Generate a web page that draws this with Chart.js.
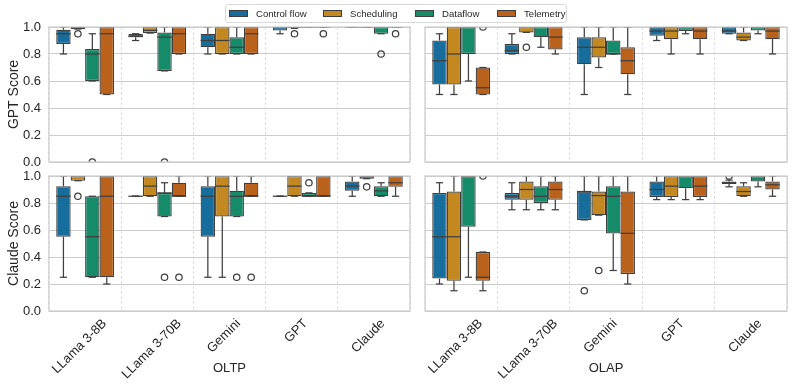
<!DOCTYPE html>
<html><head><meta charset="utf-8">
<script src="https://cdn.jsdelivr.net/npm/chart.js@4.4.1/dist/chart.umd.min.js"></script>
<style>
html,body{margin:0;padding:0;background:#fff;}
#wrap{position:relative;width:793px;height:388px;overflow:hidden;font-family:"Liberation Sans",Arial,sans-serif;}
#wrap canvas{position:absolute;left:0;top:0;}
#legend{position:absolute;left:225px;top:4px;width:342px;height:19px;box-sizing:border-box;border:1px solid #d9d9d9;border-radius:3px;background:rgba(255,255,255,0.85);font-size:9.6px;color:#262626;white-space:nowrap;}
#legend .pt{position:absolute;top:5px;width:19px;height:7px;box-sizing:border-box;border:1px solid #3f3f3f;}
#legend .tx{position:absolute;top:3px;line-height:11px;}
</style></head>
<body><div id="wrap">
<canvas id="c0" width="793" height="388"></canvas>
<canvas id="c1" width="793" height="388"></canvas>
<canvas id="c2" width="793" height="388"></canvas>
<canvas id="c3" width="793" height="388"></canvas>
<div id="legend"></div>
</div>
<script>
// ---------------- data ----------------
const categories = ['LLama 3-8B', 'LLama 3-70B', 'Gemini', 'GPT', 'Claude'];
const seriesNames = ['Control flow', 'Scheduling', 'Dataflow', 'Telemetry'];
const yTickValues = [0.0, 0.2, 0.4, 0.6, 0.8, 1.0];
const groupTitles = ['OLTP', 'OLAP'];
const rowTitles = ['GPT Score', 'Claude Score'];

// each entry: [lower whisker, Q1, median, Q3, upper whisker] per category
const gptOltpControlFlow = [[0.8,0.875,0.95,0.98,1.0],[0.9,0.925,0.93,0.95,0.95],[0.8,0.85,0.9,0.95,1.0],[0.95,0.975,1.0,1.0,1.0],[1,1,1,1,1]];
const gptOltpScheduling  = [[0.985,0.985,1.0,1.0,1.0],[0.955,0.955,0.975,1.0,1.0],[0.8,0.8,0.9,1.0,1.0],[0.99,0.99,1.0,1.0,1.0],[1,1,1,1,1]];
const gptOltpDataflow    = [[0.6,0.6,0.8,0.8375,0.95],[0.675,0.675,0.925,0.96,1.0],[0.8,0.8,0.85,0.925,1.0],[1,1,1,1,1],[0.95,0.95,1.0,1.0,1.0]];
const gptOltpTelemetry   = [[0.5,0.5,0.95,1.0,1.0],[0.8,0.8,0.95,1.0,1.0],[0.8,0.8,0.95,1.0,1.0],[1,1,1,1,1],[1,1,1,1,1]];

const gptOlapControlFlow = [[0.5,0.575,0.75,0.9,0.95],[0.8,0.8,0.825,0.875,0.95],[0.5,0.725,0.85,0.925,1.0],[0.9,0.935,0.97,1.0,1.0],[0.95,0.95,0.97,1.0,1.0]];
const gptOlapScheduling  = [[0.5,0.575,0.8,1.0,1.0],[0.96,0.96,1.0,1.0,1.0],[0.7,0.775,0.85,0.925,1.0],[0.8,0.91,0.97,1.0,1.0],[0.9,0.9,0.925,0.96,1.0]];
const gptOlapDataflow    = [[0.6,0.8,1.0,1.0,1.0],[0.85,0.925,1.0,1.0,1.0],[0.8,0.8,0.8,0.9,1.0],[0.95,0.97,1.0,1.0,1.0],[0.95,0.975,1.0,1.0,1.0]];
const gptOlapTelemetry   = [[0.5,0.5,0.55,0.7,0.7],[0.8,0.833,0.925,1.0,1.0],[0.5,0.65,0.75,0.85,1.0],[0.8,0.91,0.97,1.0,1.0],[0.8,0.91,0.97,1.0,1.0]];

const claudeOltpControlFlow = [[0.25,0.55,0.85,0.925,1.0],[0.85,0.85,0.85,0.85,0.85],[0.25,0.55,0.85,0.925,1.0],[0.85,0.85,0.85,0.85,0.85],[0.85,0.89,0.925,0.96,1.0]];
const claudeOltpScheduling  = [[0.965,0.965,1.0,1.0,1.0],[0.85,0.85,0.925,1.0,1.0],[0.25,0.7,0.925,1.0,1.0],[0.85,0.85,0.925,1.0,1.0],[0.98,0.98,1.0,1.0,1.0]];
const claudeOltpDataflow    = [[0.25,0.25,0.55,0.85,0.85],[0.7,0.7,0.875,0.875,0.95],[0.7,0.7,0.85,0.89,1.0],[0.85,0.85,0.85,0.875,0.875],[0.85,0.85,0.89,0.925,0.95]];
const claudeOltpTelemetry   = [[0.2,0.25,0.85,1.0,1.0],[0.85,0.85,0.85,0.95,1.0],[0.85,0.85,0.85,0.95,1.0],[0.85,0.85,0.85,1.0,1.0],[0.85,0.92,0.95,1.0,1.0]];

const claudeOlapControlFlow = [[0.2,0.24,0.55,0.875,0.95],[0.75,0.825,0.85,0.875,0.95],[0.675,0.675,0.885,0.885,1.0],[0.825,0.845,0.9,0.96,1.0],[0.92,0.94,0.95,0.96,0.97]];
const claudeOlapScheduling  = [[0.15,0.225,0.55,0.885,1.0],[0.75,0.825,0.9,0.96,1.0],[0.71,0.71,0.855,0.885,1.0],[0.825,0.845,0.925,1.0,1.0],[0.85,0.85,0.885,0.925,0.95]];
const claudeOlapDataflow    = [[0.25,0.625,1.0,1.0,1.0],[0.75,0.8,0.85,0.925,1.0],[0.3,0.575,0.85,0.925,1.0],[0.825,0.91,1.0,1.0,1.0],[0.92,0.96,1.0,1.0,1.0]];
const claudeOlapTelemetry   = [[0.15,0.225,0.25,0.437,0.437],[0.75,0.825,0.9,0.96,1.0],[0.2,0.275,0.575,0.885,1.0],[0.825,0.845,0.925,1.0,1.0],[0.85,0.9,0.935,0.96,1.0]];

// outliers per category
const gptOltpControlFlowOut = [[],[],[],[],[]];
const gptOltpSchedulingOut  = [[0.95],[],[],[0.95],[]];
const gptOltpDataflowOut    = [[0.0],[0.0],[],[],[0.8]];
const gptOltpTelemetryOut   = [[],[],[],[0.95],[0.95]];

const gptOlapControlFlowOut = [[],[],[],[],[]];
const gptOlapSchedulingOut  = [[],[0.85],[],[],[]];
const gptOlapDataflowOut    = [[],[],[],[],[]];
const gptOlapTelemetryOut   = [[1.0],[],[],[],[]];

const claudeOltpControlFlowOut = [[],[],[],[],[]];
const claudeOltpSchedulingOut  = [[0.85],[],[],[],[0.92]];
const claudeOltpDataflowOut    = [[],[0.25],[0.25],[0.95],[]];
const claudeOltpTelemetryOut   = [[],[0.25],[0.25],[],[]];

const claudeOlapControlFlowOut = [[],[],[0.15],[],[1.0]];
const claudeOlapSchedulingOut  = [[],[],[0.3],[],[]];
const claudeOlapDataflowOut    = [[],[],[],[],[]];
const claudeOlapTelemetryOut   = [[1.0],[],[],[],[]];

// ---------------- style ----------------
const seriesColors = ['#176d9c', '#c38820', '#168b6a', '#ba611b'];
const EDGE = '#3f3f3f';
const LW = 1.25;
const TEXT = '#262626';
const FONT = '"Liberation Sans", Arial, sans-serif';
const W = 793, H = 388;
const legendPatchLeft = [3, 97, 189, 271];

const panels = [
  {id:'c0', stats:[gptOltpControlFlow,gptOltpScheduling,gptOltpDataflow,gptOltpTelemetry],
   outl:[gptOltpControlFlowOut,gptOltpSchedulingOut,gptOltpDataflowOut,gptOltpTelemetryOut],
   area:{left:49,top:27,right:410,bottom:162}, yTitle:rowTitles[0], xTitle:null},
  {id:'c1', stats:[gptOlapControlFlow,gptOlapScheduling,gptOlapDataflow,gptOlapTelemetry],
   outl:[gptOlapControlFlowOut,gptOlapSchedulingOut,gptOlapDataflowOut,gptOlapTelemetryOut],
   area:{left:425,top:27,right:787,bottom:162}, yTitle:null, xTitle:null},
  {id:'c2', stats:[claudeOltpControlFlow,claudeOltpScheduling,claudeOltpDataflow,claudeOltpTelemetry],
   outl:[claudeOltpControlFlowOut,claudeOltpSchedulingOut,claudeOltpDataflowOut,claudeOltpTelemetryOut],
   area:{left:49,top:176,right:410,bottom:311}, yTitle:rowTitles[1], xTitle:groupTitles[0]},
  {id:'c3', stats:[claudeOlapControlFlow,claudeOlapScheduling,claudeOlapDataflow,claudeOlapTelemetry],
   outl:[claudeOlapControlFlowOut,claudeOlapSchedulingOut,claudeOlapDataflowOut,claudeOlapTelemetryOut],
   area:{left:425,top:176,right:787,bottom:311}, yTitle:null, xTitle:groupTitles[1]},
];

const boxPlugin = {
  id: 'boxExtras',
  beforeDraw(chart) {
    // center each rotated tick label's bounding box on its tick (matplotlib-style)
    const s = chart.scales.x;
    if (!s.options.ticks.display || typeof s.getLabelItems !== 'function') return;
    const items = s.getLabelItems();
    if (!items || items._centered) return;
    const ctx = chart.ctx;
    const c = Math.cos(Math.PI / 4);
    items.forEach(it => {
      ctx.save(); ctx.font = it.font.string;
      const w = ctx.measureText(String(it.label)).width;
      ctx.restore();
      const lh = it.font.lineHeight;
      it.options.translation[0] += c * (w - lh) / 2;
    });
    items._centered = true;
  },
  afterDatasetsDraw(chart) {
    const {ctx, chartArea: a} = chart;
    const y = chart.scales.y;
    const py = v => y.getPixelForValue(v);
    ctx.save();
    ctx.beginPath(); ctx.rect(a.left, a.top, a.right - a.left, a.bottom - a.top); ctx.clip();
    ctx.strokeStyle = EDGE; ctx.lineWidth = LW; ctx.lineCap = 'butt';
    const seg = (x1, y1, x2, y2) => { ctx.beginPath(); ctx.moveTo(x1, y1); ctx.lineTo(x2, y2); ctx.stroke(); };
    chart.data.datasets.forEach((ds, di) => {
      const meta = chart.getDatasetMeta(di);
      meta.data.forEach((bar, i) => {
        const s = ds.stats[i];
        const {x, width} = bar.getProps(['x', 'width'], true);
        const half = width / 2, cap = width / 4;
        seg(x, py(s[1]), x, py(s[0]));
        seg(x - cap, py(s[0]), x + cap, py(s[0]));
        seg(x, py(s[3]), x, py(s[4]));
        seg(x - cap, py(s[4]), x + cap, py(s[4]));
        seg(x - half, py(s[2]), x + half, py(s[2]));
        ds.outliers[i].forEach(v => {
          ctx.beginPath(); ctx.arc(x, py(v), 3.2, 0, Math.PI * 2); ctx.stroke();
        });
      });
    });
    ctx.restore();
  },
  afterDraw(chart) {
    const {ctx, chartArea: a} = chart;
    ctx.save();
    ctx.strokeStyle = '#cccccc'; ctx.lineWidth = 1.25;
    ctx.strokeRect(a.left, a.top, a.right - a.left, a.bottom - a.top);
    ctx.restore();
  }
};

panels.forEach(p => {
  const hasY = !!p.yTitle;
  const hasX = !!p.xTitle;
  const yW = hasY ? 43 : 0;
  const xH = hasX ? (H - p.area.bottom) : 0;
  const padLeft = p.area.left - yW;
  const padBottom = H - p.area.bottom - xH;
  new Chart(document.getElementById(p.id), {
    type: 'bar',
    data: {
      labels: categories,
      datasets: seriesNames.map((name, k) => ({
        label: name,
        data: p.stats[k].map(s => [s[1], s[3]]),
        stats: p.stats[k],
        outliers: p.outl[k],
        backgroundColor: seriesColors[k],
        borderColor: EDGE,
        borderWidth: LW,
        borderSkipped: false,
        barPercentage: 1.0,
        categoryPercentage: 0.8,
        clip: 0
      }))
    },
    options: {
      responsive: false,
      animation: false,
      devicePixelRatio: 1,
      events: [],
      layout: {padding: {left: padLeft, top: p.area.top, right: W - p.area.right, bottom: padBottom}},
      plugins: {legend: {display: false}, tooltip: {enabled: false}},
      scales: {
        x: {
          type: 'category',
          offset: true,
          grid: {display: true, offset: true, color: 'rgba(204,204,204,0.6)', lineWidth: 1, drawTicks: false},
          border: {display: false, dash: [3, 2]},
          ticks: {
            display: hasX, autoSkip: false, maxRotation: 45, minRotation: 45,
            color: TEXT, font: {family: FONT, size: 13}, padding: 5, labelOffset: 0
          },
          title: {display: hasX, text: p.xTitle || '', color: TEXT, font: {family: FONT, size: 13}, padding: {top: 0, bottom: 12}},
          afterFit: s => { s.height = xH; }
        },
        y: {
          min: 0, max: 1,
          grid: {display: true, color: '#cccccc', lineWidth: 1, drawTicks: false},
          border: {display: false},
          afterBuildTicks: s => { s.ticks = yTickValues.map(v => ({value: v})); },
          ticks: {display: hasY, color: TEXT, font: {family: FONT, size: 13}, padding: 8,
                  callback: v => Number(v).toFixed(1)},
          title: {display: hasY, text: p.yTitle || '', color: TEXT, font: {family: FONT, size: 14}, padding: 0},
          afterFit: s => { s.width = yW; }
        }
      }
    },
    plugins: [boxPlugin]
  });
});

// legend
const leg = document.getElementById('legend');
seriesNames.forEach((n, k) => {
  const pt = document.createElement('div'); pt.className = 'pt';
  pt.style.background = seriesColors[k]; pt.style.left = legendPatchLeft[k] + 'px';
  const tx = document.createElement('span'); tx.className = 'tx'; tx.textContent = n;
  tx.style.left = (legendPatchLeft[k] + 27) + 'px';
  leg.appendChild(pt); leg.appendChild(tx);
});
</script>
</body></html>
